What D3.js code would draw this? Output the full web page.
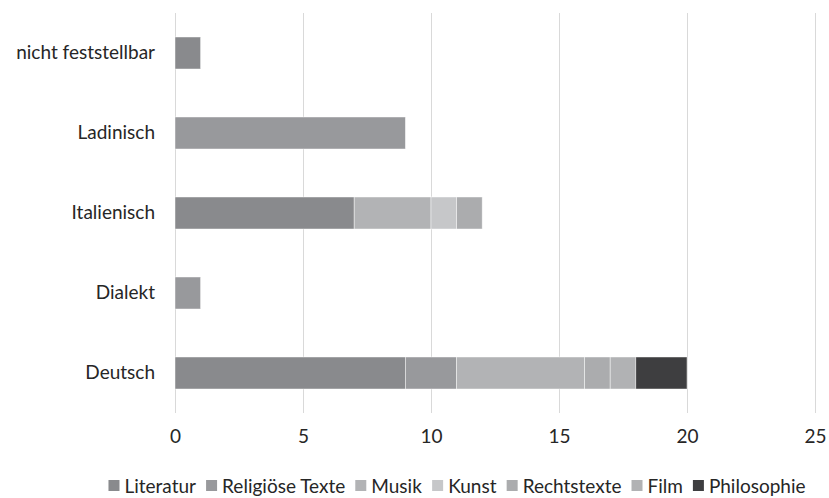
<!DOCTYPE html>
<html><head><meta charset="utf-8">
<script src="https://cdn.jsdelivr.net/npm/d3@7"></script>
<style>body{margin:0;background:#fff}svg{display:block}text{font-family:Lato,"Open Sans",sans-serif;fill:#262626}</style>
</head><body><svg id="c" width="829" height="498"></svg>
<script>
const categories = ["Deutsch","Dialekt","Italienisch","Ladinisch","nicht feststellbar"];
const seriesNames = ["Literatur","Religiöse Texte","Musik","Kunst","Rechtstexte","Film","Philosophie"];
const literatur = [9,0,7,0,1];
const religioese = [2,1,0,9,0];
const musik = [5,0,3,0,0];
const kunst = [0,0,1,0,0];
const rechtstexte = [1,0,1,0,0];
const film = [1,0,0,0,0];
const philosophie = [2,0,0,0,0];
const xTicks = [0,5,10,15,20,25];
const colors = ["#898a8d","#98999c","#b2b3b5","#c6c7c9","#abacae","#b1b2b4","#3e3e40"];

const seriesValues = [literatur,religioese,musik,kunst,rechtstexte,film,philosophie];
const rows = categories.map((c,i)=>{const r={cat:c};seriesNames.forEach((s,j)=>r[s]=seriesValues[j][i]);return r;});
const stack = d3.stack().keys(seriesNames)(rows);

const svg = d3.select("#c");
const pL=175,pR=815,pT=13,pB=413;
const FS="19px";
const x = d3.scaleLinear().domain([0,25]).range([pL,pR]);
const y = d3.scaleBand().domain(categories.slice().reverse()).range([pT,pB]).paddingInner(0.6).paddingOuter(0.3);

// gridlines
svg.append("g").selectAll("line").data(xTicks).join("line")
  .attr("x1",d=>x(d)+0.5).attr("x2",d=>x(d)+0.5).attr("y1",pT).attr("y2",pB)
  .attr("stroke","#d9d9d9").attr("stroke-width",1);

// bars
svg.append("g").selectAll("g").data(stack).join("g")
  .attr("fill",(d,i)=>colors[i])
  .selectAll("rect").data(d=>d.filter(p=>p[1]-p[0]>0)).join("rect")
  .attr("x",d=>x(d[0])).attr("width",d=>x(d[1])-x(d[0]))
  .attr("y",d=>y(d.data.cat)).attr("height",y.bandwidth())
  .attr("stroke","#ffffff").attr("stroke-opacity",0.6).attr("stroke-width",0.75);

// x axis labels
const xa = d3.axisBottom(x).tickValues(xTicks).tickSize(0).tickPadding(0);
const gx = svg.append("g").attr("transform",`translate(0,${pB})`).call(xa);
gx.select(".domain").remove();
gx.selectAll("text").attr("y",17).attr("dy","0.71em").style("font-size",FS).style("font-family","Lato").attr("fill","#262626");

// y axis labels
const ya = d3.axisLeft(y).tickSize(0).tickPadding(0);
const gy = svg.append("g").attr("transform",`translate(${pL},0)`).call(ya);
gy.select(".domain").remove();
gy.selectAll("text").attr("x",-20).style("font-size",FS).style("font-family","Lato").attr("fill","#262626");

// legend
const lg = svg.append("g");
const items = lg.selectAll("g").data(seriesNames).join("g");
items.append("rect").attr("width",11).attr("height",11).attr("y",-6).attr("fill",(d,i)=>colors[i]);
items.append("text").attr("x",16).attr("y",7)
  .style("font-size",FS).text(d=>d);
let cx=0;
items.each(function(){const w=this.getBBox().width;d3.select(this).attr("transform",`translate(${cx},0)`);cx+=w+10;});
const total=cx-10;
lg.attr("transform",`translate(${457-total/2},${486})`);
</script></body></html>
